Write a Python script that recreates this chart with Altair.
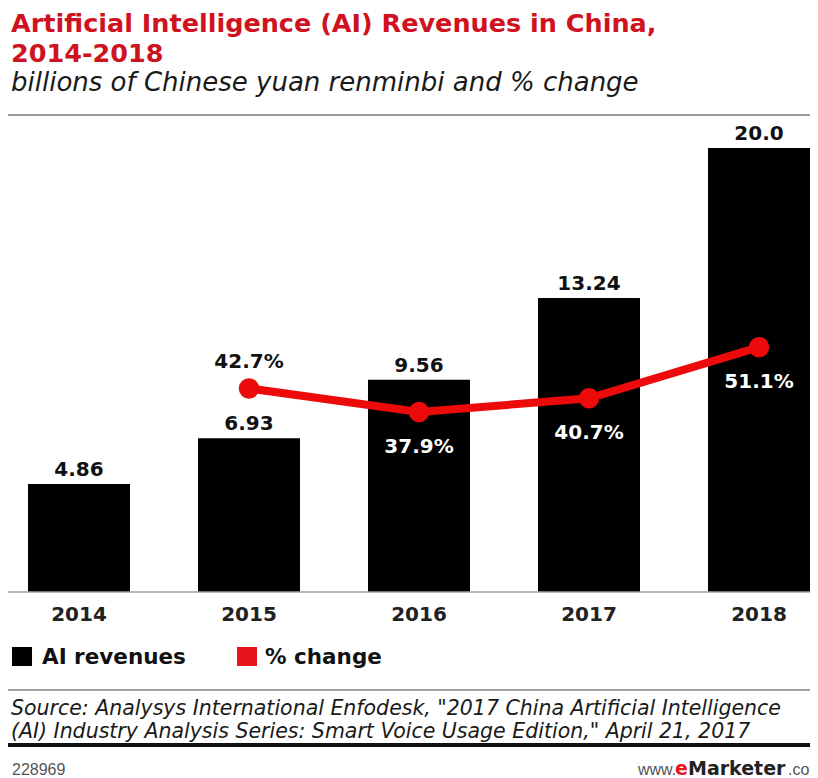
import altair as alt
import pandas as pd

# ---------------- data ----------------
years = ["2014", "2015", "2016", "2017", "2018"]
revenues = [4.86, 6.93, 9.56, 13.24, 20.0]
revenue_labels = ["4.86", "6.93", "9.56", "13.24", "20.0"]
pct_years = ["2015", "2016", "2017", "2018"]
pct_change = [42.7, 37.9, 40.7, 51.1]

title_lines = ["Artificial Intelligence (AI) Revenues in China,", "2014-2018"]
subtitle = "billions of Chinese yuan renminbi and % change"
legend_items = ["AI revenues", "% change"]
source_lines = [
    'Source: Analysys International Enfodesk, "2017 China Artificial Intelligence',
    '(AI) Industry Analysis Series: Smart Voice Usage Edition," April 21, 2017',
]
chart_id = "228969"

rev_df = pd.DataFrame({"year": years, "revenue": revenues, "label": revenue_labels})
pct_df = pd.DataFrame({"year": pct_years, "pct": pct_change})
one = pd.DataFrame({"k": [0]})

FONT = "DejaVu Sans"
RED = "#ec0a0a"
TITLE_RED = "#d0121e"

x_enc = alt.X("year:N", sort=years, axis=None,
              scale=alt.Scale(paddingInner=0.4, paddingOuter=0.0588, align=1))
y_rev = alt.Y("revenue:Q", axis=None, scale=alt.Scale(domain=[0, 20]))
y_pct = alt.Y("pct:Q", axis=None, scale=alt.Scale(domain=[1.3, 91.6], zero=False))

bars = alt.Chart(rev_df).mark_bar(color="#000000").encode(x=x_enc, y=y_rev)
bar_text = alt.Chart(rev_df).mark_text(
    font=FONT, fontWeight="bold", fontSize=20, baseline="alphabetic", dy=-8, color="#111111"
).encode(x=x_enc, y=y_rev, text="label:N")
year_text = alt.Chart(rev_df).mark_text(
    font=FONT, fontWeight="bold", fontSize=20, baseline="alphabetic", color="#222222"
).encode(x=x_enc, y=alt.value(473), text="year:N")

line = alt.Chart(pct_df).mark_line(color=RED, strokeWidth=8).encode(x=x_enc, y=y_pct)
points = alt.Chart(pct_df).mark_circle(color=RED, size=420, opacity=1).encode(x=x_enc, y=y_pct)
pct_base = alt.Chart(pct_df).transform_calculate(lab="format(datum.pct, '.1f') + '%'")
pct_above = pct_base.transform_filter("datum.year == '2015'").mark_text(
    font=FONT, fontWeight="bold", fontSize=20, baseline="alphabetic", dy=-20, color="#111111"
).encode(x=x_enc, y=y_pct, text="lab:N")
pct_below = pct_base.transform_filter("datum.year != '2015'").mark_text(
    font=FONT, fontWeight="bold", fontSize=20, baseline="alphabetic", dy=41, color="#ffffff"
).encode(x=x_enc, y=y_pct, text="lab:N")


def txt(text, x, y, size, color="#111111", weight="normal", style="normal", align="left", font=FONT):
    return alt.Chart(one).mark_text(
        font=font, fontSize=size, fontWeight=weight, fontStyle=style, align=align,
        baseline="alphabetic", color=color
    ).encode(x=alt.value(x), y=alt.value(y), text=alt.value(text))


def hrule(y, color, width, x0=0, x1=802):
    return alt.Chart(one).mark_rule(color=color, strokeWidth=width).encode(
        x=alt.value(x0), x2=alt.value(x1), y=alt.value(y))


def box(x0, x1, y0, y1, color):
    return alt.Chart(one).mark_rect(color=color).encode(
        x=alt.value(x0), x2=alt.value(x1), y=alt.value(y0), y2=alt.value(y1))


deco = [
    txt(title_lines[0], 3, -116, 25.5, TITLE_RED, "bold"),
    txt(title_lines[1], 3, -86, 25.5, TITLE_RED, "bold"),
    txt(subtitle, 3, -57, 26, "#1a1a1a", "normal", "italic"),
    hrule(-33, "#9a9a9a", 2),
    hrule(444, "#a0a0a0", 1.5),
    box(4, 24, 499, 518, "#000000"),
    txt(legend_items[0], 34, 516, 21.5, "#111111", "bold"),
    box(229, 249, 499, 518, "#e8141c"),
    txt(legend_items[1], 257, 516, 21.5, "#111111", "bold"),
    hrule(542, "#a0a0a0", 2),
    txt(source_lines[0], 3, 567, 20.5, "#1a1a1a", "normal", "italic"),
    txt(source_lines[1], 3, 590, 20.5, "#1a1a1a", "normal", "italic"),
    hrule(597, "#111111", 4),
    txt(chart_id, 4, 627, 16, "#555555", font="Liberation Sans"),
    txt("www.", 630, 627, 16, "#555555", font="Liberation Sans"),
    txt("e", 667, 627, 19, "#e8141c", "bold"),
    txt("Marketer", 680, 627, 19, "#222222", "bold"),
    txt(".com", 780, 627, 16, "#555555", font="Liberation Sans"),
]

chart = alt.layer(
    bars, bar_text, year_text, line, points, pct_above, pct_below, *deco
).resolve_scale(y="independent").properties(
    width=802, height=444,
    padding={"left": 0, "top": 140, "right": 0, "bottom": 186},
    autosize=alt.AutoSizeParams(type="none"),
    background="#ffffff",
).configure_view(stroke=None)

chart.save("out.html", embed_options={"renderer": "svg", "actions": False})
